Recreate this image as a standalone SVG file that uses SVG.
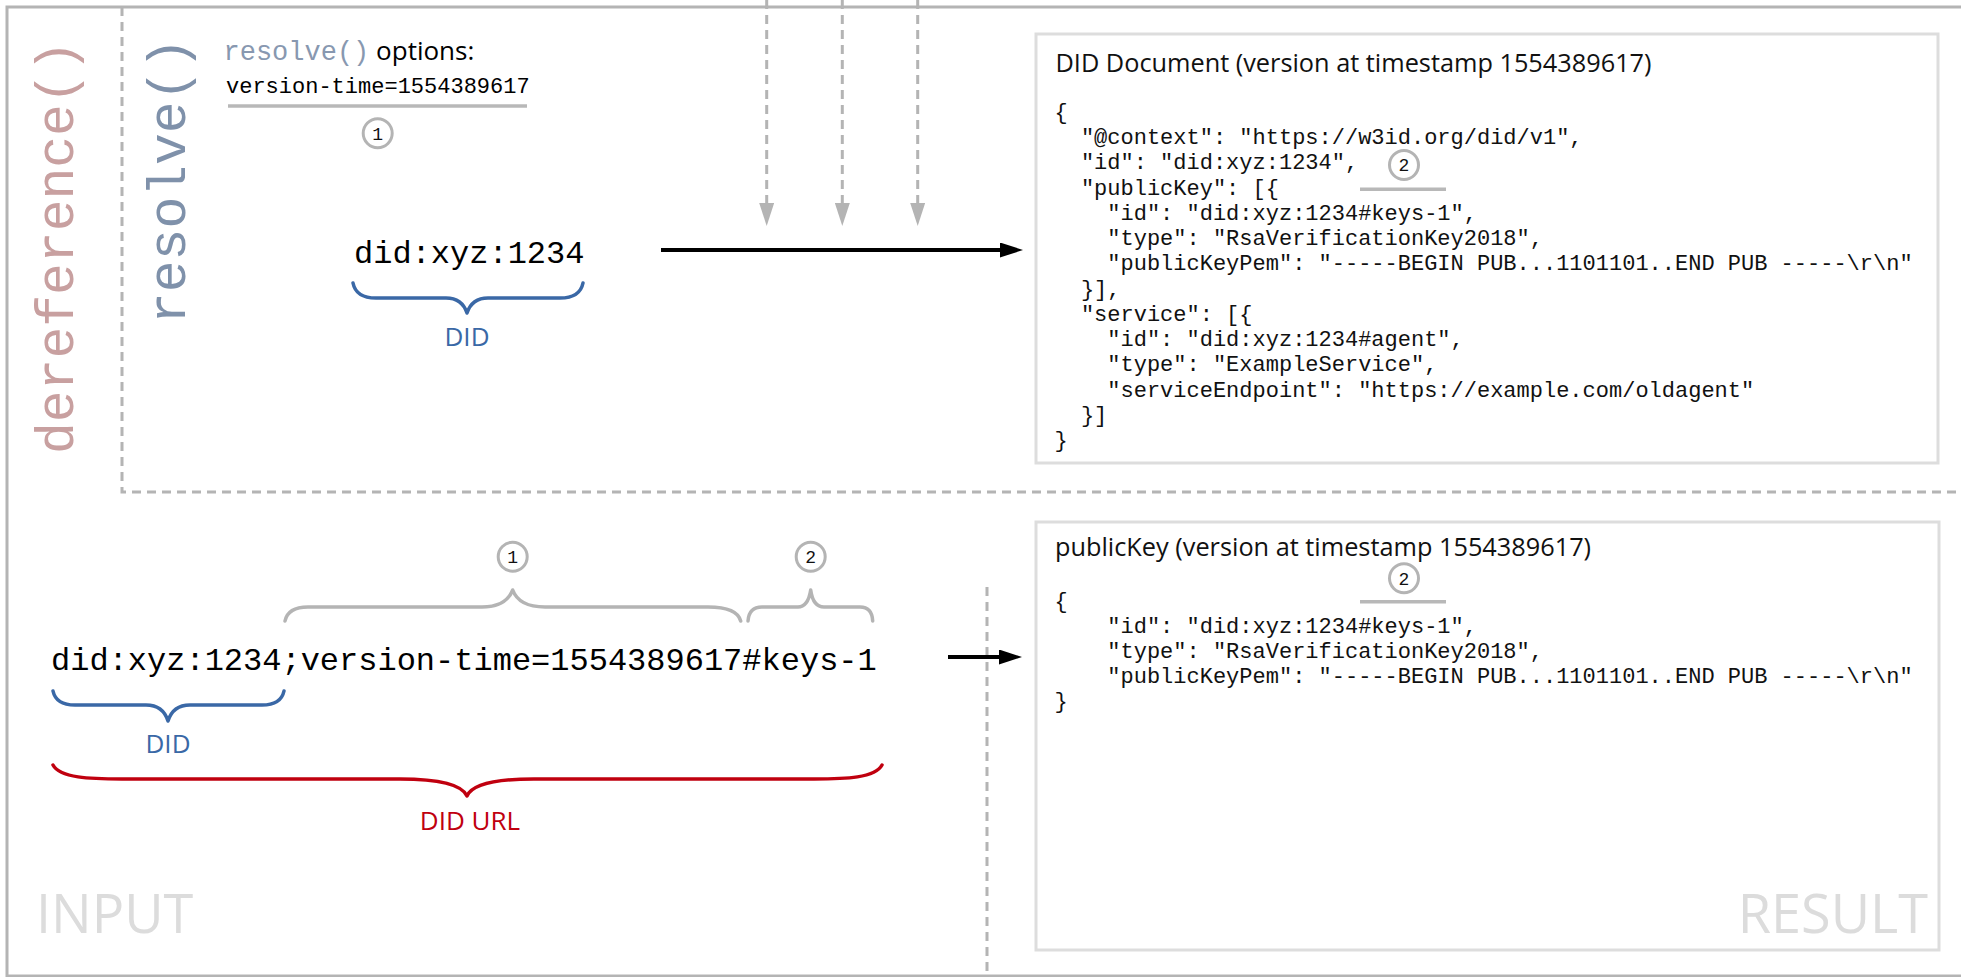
<svg xmlns="http://www.w3.org/2000/svg" width="1961" height="977" viewBox="0 0 1961 977">
<style>
.mono{font-family:"Liberation Mono","DejaVu Sans Mono",monospace;}
.sans{font-family:"Open Sans","Liberation Sans",sans-serif;}
.json{font-family:"Liberation Mono","DejaVu Sans Mono",monospace;font-size:22px;fill:#111;}
.title{font-family:"Open Sans","Liberation Sans",sans-serif;font-size:25.3px;fill:#111;}
.box{fill:#fff;stroke:#dddddd;stroke-width:3;}
.frame{fill:none;stroke:#b4b4b4;stroke-width:3;}
.dash{fill:none;stroke:#b4b4b4;stroke-width:3;stroke-dasharray:9 6;}
.num circle{fill:#fff;stroke:#b4b4b4;stroke-width:3;}
.num text{font-family:"Liberation Mono","DejaVu Sans Mono",monospace;font-size:18px;fill:#111;text-anchor:middle;}
.uline{stroke:#b8b8b8;stroke-width:3.5;}
.brace{fill:none;stroke-width:3.5;stroke-linecap:round;stroke-linejoin:round;}
.big{font-family:"Open Sans","Liberation Sans",sans-serif;font-size:54px;font-weight:400;fill:#dcdcdc;}
</style>
<defs>
<marker id="ahGray" markerUnits="userSpaceOnUse" viewBox="0 0 23 15" markerWidth="23" markerHeight="15" refX="0" refY="7.5" orient="auto">
<path d="M0,0 L23,7.5 L0,15 z" fill="#b4b4b4"/>
</marker>
<marker id="ahBlack" markerUnits="userSpaceOnUse" viewBox="0 0 23 15" markerWidth="23" markerHeight="15" refX="0" refY="7.5" orient="auto">
<path d="M0,0 L23,7.5 L0,15 z" fill="#000"/>
</marker>
</defs>
<rect width="1961" height="977" fill="#fff"/>

<g id="frame">
<rect class="frame" x="7" y="7" width="1962" height="969"/>
<path class="dash" d="M122,7 L122,492 L1961,492"/>
<path class="dash" d="M987,587 L987,977"/>
</g>

<g id="dereference-label">
<text class="mono" transform="translate(73,454) rotate(-90)" font-size="53" fill="#c8a0a0">dereference()</text>
</g>
<g id="resolve-label">
<text class="mono" transform="translate(185,324) rotate(-90)" font-size="53" fill="#7f91aa">resolve()</text>
</g>

<g id="resolve-options">
<text x="223.5" y="60"><tspan class="mono" font-size="27" fill="#8898b0">resolve()</tspan><tspan class="sans" font-size="26" fill="#000"> options:</tspan></text>
<text class="mono" x="226" y="93" font-size="22" fill="#000">version-time=1554389617</text>
<line class="uline" x1="228" y1="106" x2="527" y2="106"/>
<g class="num"><circle cx="377.7" cy="133.3" r="14.5"/><text x="377.7" y="139.5">1</text></g>
</g>

<g id="did-input-top">
<text class="mono" x="354" y="263" font-size="32" fill="#000">did:xyz:1234</text>
<path class="brace" stroke="#3a68a6" d="M353,283 Q356,298 376,298 L446,298 Q462,298 467,313 Q472,298 488,298 L560,298 Q580,298 583,283"/>
<text class="sans" x="467" y="346" font-size="26" fill="#3a68a6" text-anchor="middle">DID</text>
</g>

<g id="did-document">
<rect class="box" x="1036" y="34" width="902" height="429"/>
<text class="title" x="1055.5" y="71.7">DID Document (version at timestamp 1554389617)</text>
<text class="json" x="1054.5" y="118.8">{</text>
<text class="json" x="1080.9" y="144.05">"@context": "https://w3id.org/did/v1",</text>
<text class="json" x="1080.9" y="169.3">"id": "did:xyz:1234",</text>
<text class="json" x="1080.9" y="194.55">"publicKey": [{</text>
<text class="json" x="1107.3" y="219.8">"id": "did:xyz:1234#keys-1",</text>
<text class="json" x="1107.3" y="245.05">"type": "RsaVerificationKey2018",</text>
<text class="json" x="1107.3" y="270.3">"publicKeyPem": "-----BEGIN PUB...1101101..END PUB -----\r\n"</text>
<text class="json" x="1080.9" y="295.55">}],</text>
<text class="json" x="1080.9" y="320.8">"service": [{</text>
<text class="json" x="1107.3" y="346.05">"id": "did:xyz:1234#agent",</text>
<text class="json" x="1107.3" y="371.3">"type": "ExampleService",</text>
<text class="json" x="1107.3" y="396.55">"serviceEndpoint": "https://example.com/oldagent"</text>
<text class="json" x="1080.9" y="421.8">}]</text>
<text class="json" x="1054.5" y="447.05">}</text>
<g class="num"><circle cx="1404" cy="165" r="14.5"/><text x="1404" y="171.2">2</text></g>
<line class="uline" x1="1360" y1="189.3" x2="1446" y2="189.3"/>
</g>

<g id="did-url-input">
<text class="mono" x="51" y="670" font-size="32" fill="#000">did:xyz:1234;version-time=1554389617#keys-1</text>
<path class="brace" stroke="#b4b4b4" d="M285,621 Q288,607 308,607 L482,607 Q506,607 512.7,590 Q519,607 545,607 L708,607 Q737,607 740.7,621"/>
<path class="brace" stroke="#b4b4b4" d="M748,621 Q749,607 762,607 L798,607 Q808,607 810.7,590 Q813,607 824,607 L860,607 Q872,607 872.7,621"/>
<g class="num"><circle cx="512.7" cy="556.7" r="14.5"/><text x="512.7" y="562.9">1</text></g>
<g class="num"><circle cx="810.7" cy="556.7" r="14.5"/><text x="810.7" y="562.9">2</text></g>
<path class="brace" stroke="#3a68a6" d="M53,691 Q56,705 75,705 L146,705 Q163,705 168,721 Q173,705 190,705 L262,705 Q281,705 284,691"/>
<text class="sans" x="168" y="753" font-size="26" fill="#3a68a6" text-anchor="middle">DID</text>
<path class="brace" stroke="#c0000f" d="M53,765 C60,778 90,779 122,779 L400,779 C440,779 462,785 467,796 C472,785 494,779 534,779 L814,779 C846,779 875,778 882,765"/>
<text class="sans" x="470" y="830" font-size="26" fill="#c0000f" text-anchor="middle">DID URL</text>
</g>

<g id="public-key-result">
<rect class="box" x="1036" y="522" width="903" height="428"/>
<text class="title" x="1055" y="555.5">publicKey (version at timestamp 1554389617)</text>
<g class="num"><circle cx="1404" cy="578.3" r="14.5"/><text x="1404" y="584.5">2</text></g>
<line class="uline" x1="1360" y1="601.7" x2="1446" y2="601.7"/>
<text class="json" x="1054.5" y="608.3">{</text>
<text class="json" x="1107.3" y="633.3">"id": "did:xyz:1234#keys-1",</text>
<text class="json" x="1107.3" y="658.3">"type": "RsaVerificationKey2018",</text>
<text class="json" x="1107.3" y="683.3">"publicKeyPem": "-----BEGIN PUB...1101101..END PUB -----\r\n"</text>
<text class="json" x="1054.5" y="708.3">}</text>
</g>

<g id="input-label"><text class="big" x="36" y="933">INPUT</text></g>
<g id="result-label"><text class="big" x="1928" y="933" text-anchor="end">RESULT</text></g>

<g id="connectors">
<line class="dash" x1="766.7" y1="0" x2="766.7" y2="203" stroke-width="3.5" marker-end="url(#ahGray)"/>
<line class="dash" x1="842.3" y1="0" x2="842.3" y2="203" stroke-width="3.5" marker-end="url(#ahGray)"/>
<line class="dash" x1="917.7" y1="0" x2="917.7" y2="203" stroke-width="3.5" marker-end="url(#ahGray)"/>
<line x1="661" y1="250" x2="1000" y2="250" stroke="#000" stroke-width="4" marker-end="url(#ahBlack)"/>
<line x1="948" y1="657" x2="999" y2="657" stroke="#000" stroke-width="4" marker-end="url(#ahBlack)"/>
</g>
</svg>
